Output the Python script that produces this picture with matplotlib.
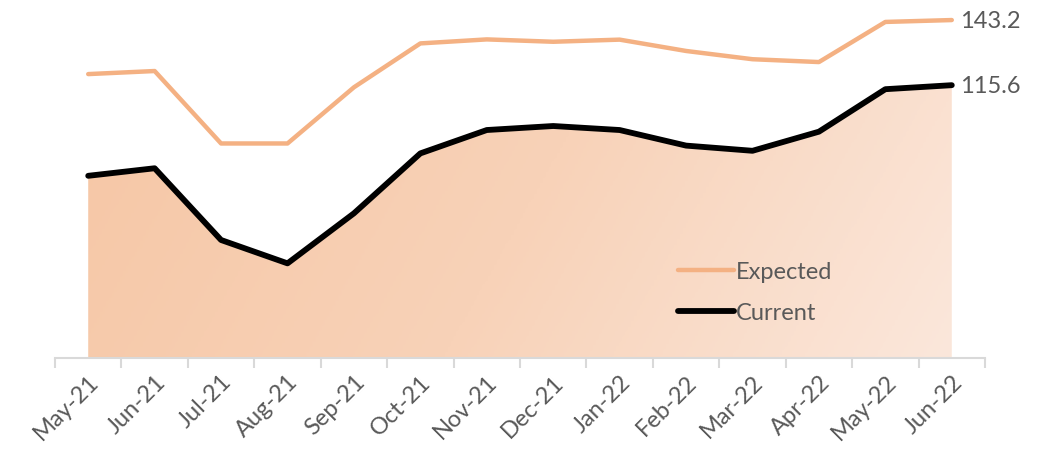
import numpy as np
import matplotlib
matplotlib.use("Agg")
import matplotlib.pyplot as plt
from matplotlib.colors import LinearSegmentedColormap

months = ["May-21", "Jun-21", "Jul-21", "Aug-21", "Sep-21", "Oct-21", "Nov-21",
          "Dec-21", "Jan-22", "Feb-22", "Mar-22", "Apr-22", "May-22", "Jun-22"]
expected = [120.3, 121.6, 90.9, 90.9, 114.7, 133.3, 135.0,
            134.0, 134.9, 130.1, 126.6, 125.4, 142.4, 143.2]
current = [77.2, 80.4, 50.0, 40.1, 61.3, 86.7, 96.6,
           98.3, 96.6, 90.0, 87.8, 95.9, 113.9, 115.6]

plt.rcParams["font.family"] = ["Lato", "DejaVu Sans"]
TXT = "#595959"

fig = plt.figure(figsize=(10.46, 4.52), dpi=100)
ax = fig.add_axes([55 / 1046, 93 / 452, 930 / 1046, 354 / 452])

x = np.arange(len(months))
ax.set_xlim(-0.5, len(months) - 0.5)
ax.set_ylim(0, 150)

# gradient area under current
cmap = LinearSegmentedColormap.from_list("grad", ["#f6c7a6", "#f8d2b8", "#fbe7db"])
gx, gy = np.meshgrid(np.linspace(0, 1, 300), np.linspace(0, 1, 100))
grad = 0.85 * gx + 0.15 * gy
img = ax.imshow(grad, cmap=cmap, aspect="auto", origin="upper",
                extent=[x[0], x[-1], 0, max(current)], zorder=1)
poly = ax.fill_between(x, current, 0, color="none", lw=0)
clip = poly.get_paths()[0]
img.set_clip_path(clip, transform=ax.transData)

ax.plot(x, expected, color="#f4b183", lw=3.2, solid_capstyle="round",
        solid_joinstyle="round", label="Expected", zorder=3)
ax.plot(x, current, color="black", lw=4.2, solid_capstyle="round",
        solid_joinstyle="round", label="Current", zorder=3)

ax.text(x[-1] + 0.13, expected[-1], f"{expected[-1]:.1f}", fontsize=17,
        color=TXT, va="center", ha="left")
ax.text(x[-1] + 0.13, current[-1], f"{current[-1]:.1f}", fontsize=17,
        color=TXT, va="center", ha="left")

for s in ["top", "left", "right"]:
    ax.spines[s].set_visible(False)
ax.spines["bottom"].set_color("#d9d9d9")
ax.spines["bottom"].set_linewidth(1.5)
ax.set_yticks([])

ax.set_xticks(np.arange(-0.5, len(months), 1.0))
ax.set_xticklabels([])
ax.tick_params(axis="x", which="major", length=7, width=1.5, color="#d9d9d9")
ax.set_xticks(x, minor=True)
ax.set_xticklabels(months, minor=True, rotation=45, ha="right",
                   rotation_mode="anchor", fontsize=17, color=TXT)
ax.tick_params(axis="x", which="minor", length=0, pad=9)

leg = ax.legend(loc="upper left", bbox_to_anchor=(666 / 1046, 1 - 250 / 452),
                bbox_transform=fig.transFigure, frameon=False, fontsize=17,
                handlelength=2.4, handletextpad=0.05, labelspacing=0.85,
                borderpad=0)
for t in leg.get_texts():
    t.set_color(TXT)

fig.savefig("out.png", dpi=100)
